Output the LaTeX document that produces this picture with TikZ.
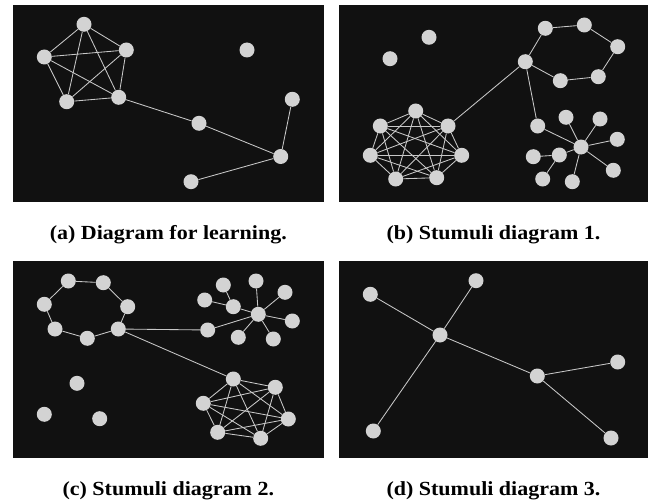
\documentclass[tikz,border=0pt]{standalone}
\usepackage{fontspec}
\setmainfont{Liberation Serif}
\newfontfamily\capfont[FakeStretch=1.1]{Liberation Serif}
\definecolor{panelbg}{HTML}{111111}
\definecolor{nodegray}{HTML}{D3D3D3}
\definecolor{edgegray}{HTML}{C8C8C8}
\pgfdeclarelayer{bg}
\pgfdeclarelayer{edges}
\pgfsetlayers{bg,edges,main}
\begin{document}
\begin{tikzpicture}[x=1pt,y=-1pt,
  v/.style={circle,fill=nodegray,minimum size=15pt,inner sep=0pt},
  e/.style={draw=edgegray,line width=0.85pt},
  panel/.style={fill=panelbg},
  captext/.style={font=\capfont\fontsize{20}{24}\selectfont\bfseries,anchor=base,inner sep=0pt}]
\useasboundingbox (0,0) rectangle (650,500);
\begin{pgfonlayer}{bg}
\fill[panel] (12.7,4.7) rectangle (323.7,201.7);
\fill[panel] (339,4.7) rectangle (648,201.7);
\fill[panel] (12.7,261) rectangle (323.7,458);
\fill[panel] (339,261) rectangle (648,458);
\end{pgfonlayer}
% ---- panel a
\node[v] (a1) at (84,24.3) {};
\node[v] (a2) at (126.3,50) {};
\node[v] (a3) at (44.3,57) {};
\node[v] (a4) at (66.7,101.7) {};
\node[v] (a5) at (118.7,97.3) {};
\node[v] (a6) at (247,50) {};
\node[v] (a7) at (292.3,99.3) {};
\node[v] (a8) at (199,123.3) {};
\node[v] (a9) at (280.7,156.5) {};
\node[v] (a10) at (191,181.7) {};
% ---- panel b
\node[v] (bh) at (525.3,61.7) {};
\node[v] (bx1) at (545.3,28.3) {};
\node[v] (bx2) at (584.3,25) {};
\node[v] (bx3) at (617.7,46.7) {};
\node[v] (bx4) at (598.3,76.7) {};
\node[v] (bx5) at (560.3,80.7) {};
\node[v] (bi1) at (429,37.3) {};
\node[v] (bi2) at (390,58.7) {};
\node[v] (bk1) at (415.7,111) {};
\node[v] (bk2) at (380.3,126) {};
\node[v] (bk3) at (448,126) {};
\node[v] (bk4) at (370.3,155.3) {};
\node[v] (bk5) at (461.7,155.3) {};
\node[v] (bk6) at (395.7,179) {};
\node[v] (bk7) at (436.7,177.7) {};
\node[v] (bs0) at (581,147) {};
\node[v] (bs1) at (537.7,126) {};
\node[v] (bs2) at (566,117.3) {};
\node[v] (bs3) at (600,119) {};
\node[v] (bs4) at (617.3,139.3) {};
\node[v] (bs5) at (613.3,170.3) {};
\node[v] (bs6) at (572.3,181.7) {};
\node[v] (bs7) at (559.3,155) {};
\node[v] (bs8) at (533.3,156.7) {};
\node[v] (bs9) at (542.7,179) {};
% ---- panel c
\node[v] (c1) at (68.3,281) {};
\node[v] (c2) at (103.3,282.7) {};
\node[v] (c3) at (127.7,306.7) {};
\node[v] (c4) at (118.3,329) {};
\node[v] (c5) at (87.3,338.3) {};
\node[v] (c6) at (55,329) {};
\node[v] (c7) at (44.3,304.3) {};
\node[v] (cs0) at (258.3,314.3) {};
\node[v] (cs1) at (207.7,330) {};
\node[v] (cs2) at (256,281) {};
\node[v] (cs3) at (285,292.3) {};
\node[v] (cs4) at (292.3,321) {};
\node[v] (cs5) at (273.3,339) {};
\node[v] (cs6) at (238.3,337.3) {};
\node[v] (cs7) at (233.3,306.7) {};
\node[v] (cs8) at (204.7,300) {};
\node[v] (cs9) at (223.3,285) {};
\node[v] (ck1) at (233.3,379) {};
\node[v] (ck2) at (275.3,387.3) {};
\node[v] (ck3) at (203.3,403.3) {};
\node[v] (ck4) at (288.3,419) {};
\node[v] (ck5) at (217.7,432.3) {};
\node[v] (ck6) at (260.7,438.3) {};
\node[v] (ci1) at (77,383.3) {};
\node[v] (ci2) at (44.3,414.3) {};
\node[v] (ci3) at (99.7,418.7) {};
% ---- panel d
\node[v] (d1) at (370.3,294.3) {};
\node[v] (d2) at (476,280.7) {};
\node[v] (d3) at (440,335) {};
\node[v] (d4) at (537.3,376) {};
\node[v] (d5) at (617.7,362) {};
\node[v] (d6) at (373.3,431) {};
\node[v] (d7) at (611,438) {};
% ---- edges
\begin{pgfonlayer}{edges}
\foreach \i in {1,...,5}{\foreach \j in {\i,...,5}{\ifnum\i<\j \draw[e] (a\i)--(a\j);\fi}}
\draw[e] (a5)--(a8) (a8)--(a9) (a9)--(a7) (a9)--(a10);
\draw[e] (bh)--(bx1)--(bx2)--(bx3)--(bx4)--(bx5)--(bh);
\foreach \i in {1,...,7}{\foreach \j in {\i,...,7}{\ifnum\i<\j \draw[e] (bk\i)--(bk\j);\fi}}
\draw[e] (bh)--(bk3) (bh)--(bs1);
\foreach \k in {1,...,7}{\draw[e] (bs0)--(bs\k);}
\draw[e] (bs7)--(bs8) (bs7)--(bs9);
\draw[e] (c1)--(c2)--(c3)--(c4)--(c5)--(c6)--(c7)--(c1);
\draw[e] (c4)--(cs1) (c4)--(ck1);
\foreach \k in {1,...,7}{\draw[e] (cs0)--(cs\k);}
\draw[e] (cs7)--(cs8) (cs7)--(cs9);
\foreach \i in {1,...,6}{\foreach \j in {\i,...,6}{\ifnum\i<\j \draw[e] (ck\i)--(ck\j);\fi}}
\draw[e] (d3)--(d1) (d3)--(d2) (d3)--(d6) (d3)--(d4) (d4)--(d5) (d4)--(d7);
\end{pgfonlayer}
% ---- captions
\node[captext] (capa) at (168.3,239) {(a) Diagram for learning.};
\node[captext] (capb) at (493.5,239) {(b) Stumuli diagram 1.};
\node[captext] (capc) at (168.3,495) {(c) Stumuli diagram 2.};
\node[captext] (capd) at (493.5,495) {(d) Stumuli diagram 3.};
\end{tikzpicture}
\end{document}
